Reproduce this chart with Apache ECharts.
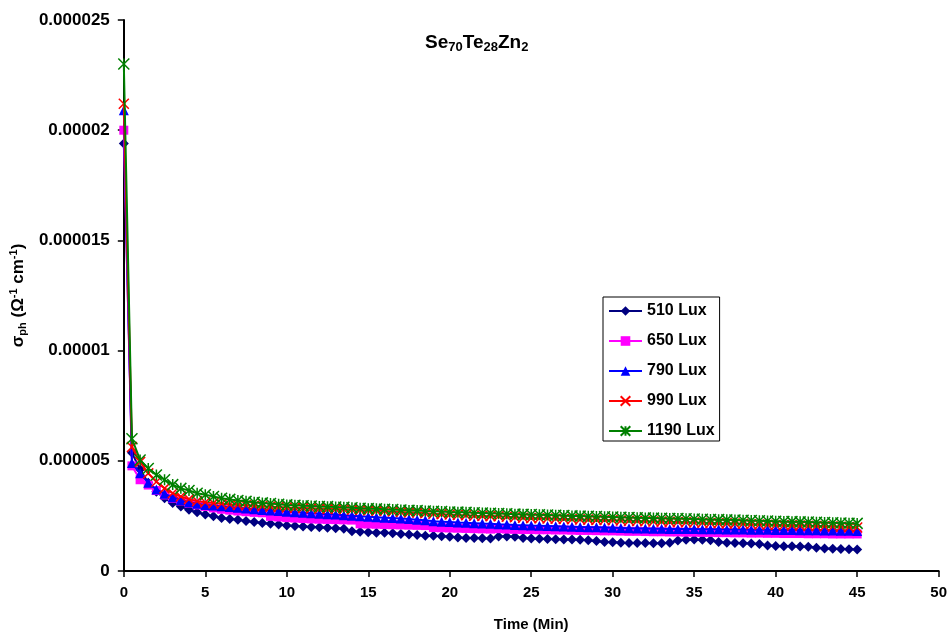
<!DOCTYPE html>
<html>
<head>
<meta charset="utf-8">
<script src="https://cdn.jsdelivr.net/npm/echarts@6/dist/echarts.min.js"></script>
<style>
html,body{margin:0;padding:0;background:#fff;}
#chart{width:950px;height:637px;}
</style>
</head>
<body>
<div id="chart"></div>
<script>
// Time (min)
var times = [0,0.5,1,1.5,2,2.5,3,3.5,4,4.5,
  5,5.5,6,6.5,7,7.5,8,8.5,9,9.5,
  10,10.5,11,11.5,12,12.5,13,13.5,14,14.5,
  15,15.5,16,16.5,17,17.5,18,18.5,19,19.5,
  20,20.5,21,21.5,22,22.5,23,23.5,24,24.5,
  25,25.5,26,26.5,27,27.5,28,28.5,29,29.5,
  30,30.5,31,31.5,32,32.5,33,33.5,34,34.5,
  35,35.5,36,36.5,37,37.5,38,38.5,39,39.5,
  40,40.5,41,41.5,42,42.5,43,43.5,44,44.5,
  45];

// sigma_ph values in units of 1e-6 (Ohm^-1 cm^-1)
var s510 = [19.4,5.36,4.6,4.0,3.6,3.3,3.08,2.93,2.78,2.66,
  2.56,2.48,2.40,2.36,2.32,2.27,2.22,2.18,2.14,2.11,
  2.07,2.04,2.02,2.00,1.98,1.96,1.94,1.92,1.80,1.78,
  1.76,1.74,1.73,1.71,1.68,1.66,1.63,1.60,1.60,1.58,
  1.55,1.52,1.50,1.50,1.49,1.48,1.56,1.57,1.55,1.50,
  1.47,1.46,1.45,1.44,1.43,1.43,1.42,1.40,1.36,1.32,
  1.30,1.28,1.27,1.27,1.27,1.26,1.26,1.28,1.38,1.42,
  1.43,1.42,1.40,1.32,1.28,1.27,1.26,1.25,1.22,1.16,
  1.13,1.12,1.12,1.11,1.10,1.05,1.02,1.01,1.00,0.99,
  0.98];
var s650 = [20.0,4.77,4.14,3.90,3.65,3.45,3.30,3.18,3.08,3.00,
  2.93,2.86,2.80,2.76,2.72,2.69,2.66,2.64,2.48,2.45,
  2.42,2.40,2.38,2.36,2.35,2.34,2.33,2.32,2.31,2.14,
  2.13,2.12,2.11,2.10,2.09,2.08,2.07,2.06,1.97,1.96,
  1.95,1.94,1.93,1.92,1.91,1.90,1.92,1.90,1.89,1.88,
  1.88,1.87,1.87,1.86,1.86,1.85,1.84,1.84,1.83,1.82,
  1.82,1.81,1.80,1.80,1.79,1.78,1.78,1.77,1.77,1.76,
  1.76,1.75,1.75,1.74,1.74,1.73,1.73,1.72,1.72,1.71,
  1.71,1.70,1.70,1.70,1.69,1.69,1.69,1.68,1.68,1.68,
  1.68];
var s790 = [20.9,4.90,4.43,4.00,3.70,3.50,3.35,3.22,3.12,3.05,
  3.00,2.97,2.94,2.90,2.87,2.84,2.80,2.77,2.75,2.72,
  2.69,2.67,2.64,2.62,2.60,2.58,2.56,2.53,2.51,2.48,
  2.46,2.44,2.42,2.40,2.38,2.36,2.33,2.30,2.26,2.24,
  2.22,2.20,2.19,2.17,2.15,2.14,2.12,2.11,2.09,2.08,
  2.06,2.05,2.04,2.03,2.02,2.01,2.00,1.99,1.98,1.97,
  1.96,1.95,1.94,1.93,1.93,1.92,1.92,1.91,1.91,1.90,
  1.90,1.89,1.89,1.89,1.88,1.88,1.88,1.87,1.87,1.87,
  1.86,1.86,1.86,1.85,1.85,1.85,1.84,1.84,1.83,1.83,
  1.82];
var s990 = [21.2,5.63,4.95,4.43,4.05,3.75,3.53,3.38,3.26,3.17,
  3.12,3.08,3.05,3.02,3.00,2.98,2.96,2.94,2.92,2.90,
  2.88,2.87,2.86,2.85,2.83,2.82,2.81,2.80,2.78,2.77,
  2.75,2.74,2.72,2.70,2.68,2.66,2.65,2.62,2.60,2.58,
  2.56,2.54,2.53,2.51,2.50,2.49,2.48,2.46,2.44,2.42,
  2.40,2.39,2.38,2.37,2.36,2.35,2.34,2.33,2.32,2.31,
  2.30,2.29,2.28,2.27,2.26,2.25,2.24,2.23,2.22,2.21,
  2.20,2.19,2.18,2.17,2.16,2.15,2.14,2.12,2.11,2.10,
  2.09,2.08,2.07,2.06,2.05,2.04,2.03,2.02,2.01,1.99,
  1.97];
var s1190 = [23.0,6.00,5.04,4.65,4.36,4.14,3.92,3.75,3.65,3.53,
  3.46,3.38,3.30,3.25,3.20,3.16,3.12,3.09,3.06,3.03,
  3.00,2.98,2.96,2.95,2.93,2.92,2.90,2.89,2.87,2.85,
  2.83,2.82,2.80,2.79,2.77,2.75,2.74,2.72,2.71,2.70,
  2.68,2.67,2.66,2.64,2.63,2.62,2.61,2.60,2.58,2.57,
  2.56,2.55,2.54,2.53,2.52,2.50,2.49,2.48,2.47,2.46,
  2.45,2.44,2.43,2.42,2.41,2.40,2.39,2.38,2.38,2.37,
  2.36,2.35,2.34,2.33,2.32,2.31,2.30,2.29,2.28,2.27,
  2.26,2.25,2.24,2.23,2.22,2.21,2.20,2.19,2.18,2.17,
  2.16];

var seriesNames = ['510 Lux','650 Lux','790 Lux','990 Lux','1190 Lux'];
var seriesValues = [s510, s650, s790, s990, s1190];
var yTickLabels = ['0','0.000005','0.00001','0.000015','0.00002','0.000025'];
var xTicks = [0,5,10,15,20,25,30,35,40,45,50];

var styles = [
  {color:'#000080', symbol:'diamond', size:10, bw:0},
  {color:'#FF00FF', symbol:'rect', size:9, bw:0},
  {color:'#0000FF', symbol:'triangle', size:10, bw:0},
  {color:'#FF0000', symbol:'path://M0,0L10,10M10,0L0,10', size:10, bw:1.5},
  {color:'#008000', symbol:'path://M0,0L10,10M10,0L0,10M5,0L5,10', size:11, bw:1.5}
];

var series = seriesNames.map(function(name, i){
  var st = styles[i];
  return {
    name: name,
    type: 'line',
    data: times.map(function(t, k){ return [t, seriesValues[i][k]]; }),
    symbol: st.symbol,
    symbolSize: st.size,
    showAllSymbol: true,
    lineStyle: {color: st.color, width: 2},
    itemStyle: {color: st.color, borderColor: st.color, borderWidth: st.bw},
    emphasis: {disabled: true},
    z: 2 + i
  };
});

var font = '"Liberation Sans", Arial, sans-serif';
var chart = echarts.init(document.getElementById('chart'), null, {renderer:'canvas'});
chart.setOption({
  animation: false,
  backgroundColor: '#ffffff',
  title: {
    text: '{b|Se}{s|70}{b|Te}{s|28}{b|Zn}{s|2}',
    left: 420, top: 27,
    textStyle: {
      rich: {
        b: {fontFamily: font, fontWeight: 'bold', fontSize: 19, color: '#000', lineHeight: 22},
        s: {fontFamily: font, fontWeight: 'bold', fontSize: 13, color: '#000', lineHeight: 13, verticalAlign: 'bottom'}
      }
    }
  },
  legend: {
    orient: 'vertical',
    left: 603, top: 297,
    padding: [6, 5, 2, 5],
    itemWidth: 33, itemHeight: 12, itemGap: 14,
    borderColor: '#000', borderWidth: 1,
    backgroundColor: '#fff',
    textStyle: {fontFamily: font, fontWeight: 'bold', fontSize: 16, color: '#000', lineHeight: 16},
    data: seriesNames
  },
  grid: {left: 122, right: 10, top: 20, bottom: 60, containLabel: false},
  xAxis: {
    type: 'value', min: 0, max: 50, interval: 5,
    name: 'Time (Min)', nameLocation: 'middle', nameGap: 46,
    nameTextStyle: {fontFamily: font, fontWeight: 'bold', fontSize: 15, color: '#000'},
    axisLine: {show: true, onZero: false, lineStyle: {color: '#000', width: 2}},
    axisTick: {show: true, inside: false, length: 6, lineStyle: {color: '#000', width: 1.5}},
    axisLabel: {fontFamily: font, fontWeight: 'bold', fontSize: 15, color: '#000', margin: 14,
      formatter: function(v){ var i = xTicks.indexOf(v); return i >= 0 ? String(xTicks[i]) : ''; }},
    splitLine: {show: false}
  },
  yAxis: {
    type: 'value', min: 0, max: 25, interval: 5,
    name: '{b|σ}{s|ph}{b| (Ω}{p|-1}{b| cm}{p|-1}{b|)}',
    nameLocation: 'middle', nameGap: 78, nameRotate: 90,
    nameTextStyle: {
      rich: {
        b: {fontFamily: font, fontWeight: 'bold', fontSize: 17, color: '#000', lineHeight: 20},
        s: {fontFamily: font, fontWeight: 'bold', fontSize: 11, color: '#000', lineHeight: 11, verticalAlign: 'bottom'},
        p: {fontFamily: font, fontWeight: 'bold', fontSize: 11, color: '#000', lineHeight: 11, verticalAlign: 'top'}
      }
    },
    axisLine: {show: true, lineStyle: {color: '#000', width: 2}},
    axisTick: {show: true, inside: false, length: 6, lineStyle: {color: '#000', width: 1.5}},
    axisLabel: {fontFamily: font, fontWeight: 'bold', fontSize: 17, color: '#000', margin: 14,
      formatter: function(v){ return yTickLabels[Math.round(v / 5)]; }},
    splitLine: {show: false}
  },
  series: series
});
</script>
</body>
</html>
